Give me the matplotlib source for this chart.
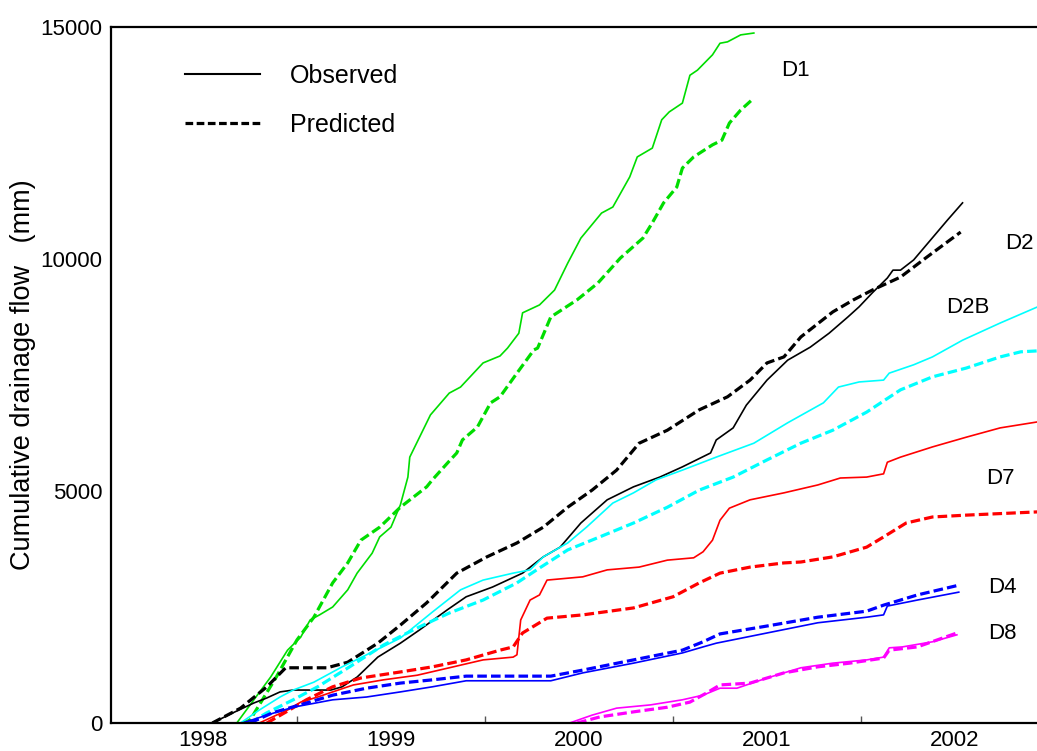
import matplotlib
matplotlib.use("Agg")
import matplotlib.pyplot as plt
from matplotlib.lines import Line2D
from matplotlib.ticker import FixedLocator

plt.rcParams['font.family'] = ['Liberation Sans', 'DejaVu Sans']

# ---- data (decimal year, cumulative drainage mm) ----
d1_obs_t = [1998.18, 1998.36, 1998.45, 1998.52, 1998.57, 1998.62, 1998.69, 1998.77, 1998.82, 1998.90,
            1998.94, 1999.00, 1999.05, 1999.09, 1999.10, 1999.21, 1999.31, 1999.37, 1999.49, 1999.58,
            1999.62, 1999.68, 1999.70, 1999.79, 1999.87, 1999.94, 2000.01, 2000.12, 2000.18, 2000.27,
            2000.31, 2000.39, 2000.44, 2000.48, 2000.55, 2000.59, 2000.63, 2000.71, 2000.75, 2000.79,
            2000.86, 2000.93]
d1_obs_v = [0, 990, 1570, 1850, 2220, 2330, 2500, 2870, 3230, 3660,
            4010, 4220, 4700, 5300, 5730, 6640, 7110, 7240, 7760, 7910,
            8080, 8400, 8840, 9010, 9330, 9910, 10450, 10990, 11120, 11770,
            12200, 12390, 13000, 13170, 13360, 13960, 14070, 14400, 14650, 14680,
            14830, 14870]
d1_pre_t = [1998.21, 1998.25, 1998.39, 1998.50, 1998.59, 1998.69, 1998.77, 1998.84, 1998.94, 1999.05,
            1999.19, 1999.22, 1999.30, 1999.35, 1999.38, 1999.46, 1999.53, 1999.58, 1999.67, 1999.76,
            1999.78, 1999.85, 1999.99, 2000.10, 2000.22, 2000.34, 2000.39, 2000.45, 2000.52, 2000.55,
            2000.61, 2000.71, 2000.76, 2000.80, 2000.86, 2000.92]
d1_pre_v = [0, 60, 990, 1790, 2280, 3020, 3450, 3940, 4220, 4650,
            5090, 5240, 5600, 5820, 6100, 6380, 6900, 7030, 7540, 8040,
            8080, 8750, 9120, 9480, 10020, 10450, 10780, 11210, 11550, 11960,
            12200, 12460, 12560, 12930, 13210, 13430]

d2_obs_t = [1998.05, 1998.16, 1998.27, 1998.34, 1998.41, 1998.48, 1998.68, 1998.74, 1998.82, 1998.93,
            1999.05, 1999.15, 1999.30, 1999.40, 1999.54, 1999.70, 1999.81, 1999.90, 2000.01, 2000.15,
            2000.29, 2000.43, 2000.55, 2000.70, 2000.73, 2000.82, 2000.89, 2001.00, 2001.11, 2001.23,
            2001.33, 2001.43, 2001.49, 2001.56, 2001.64, 2001.67, 2001.71, 2001.78, 2001.87, 2001.96,
            2002.04]
d2_obs_v = [0, 220, 430, 540, 670, 710, 710, 780, 990, 1420,
            1720, 2000, 2440, 2720, 2930, 3230, 3580, 3790, 4310, 4810,
            5090, 5300, 5520, 5820, 6100, 6360, 6850, 7390, 7820, 8100,
            8400, 8750, 8970, 9270, 9590, 9760, 9760, 9980, 10410, 10840,
            11210]
d2_pre_t = [1998.05, 1998.20, 1998.34, 1998.44, 1998.66, 1998.77, 1998.93, 1999.05, 1999.19, 1999.35,
            1999.51, 1999.67, 1999.81, 1999.94, 2000.07, 2000.20, 2000.32, 2000.47, 2000.64, 2000.79,
            2000.91, 2001.00, 2001.09, 2001.18, 2001.35, 2001.46, 2001.56, 2001.71, 2001.85, 2002.03]
d2_pre_v = [0, 320, 780, 1190, 1190, 1310, 1720, 2110, 2590, 3230,
            3580, 3880, 4220, 4650, 5020, 5450, 6030, 6310, 6750, 7030,
            7390, 7760, 7890, 8320, 8860, 9120, 9330, 9610, 10040, 10580]

d2b_obs_t = [1998.20, 1998.30, 1998.41, 1998.48, 1998.59, 1998.74, 1998.87, 1999.05, 1999.22, 1999.37,
             1999.49, 1999.65, 1999.74, 1999.81, 1999.94, 2000.04, 2000.18, 2000.29, 2000.41, 2000.55,
             2000.73, 2000.93, 2001.11, 2001.30, 2001.38, 2001.49, 2001.62, 2001.65, 2001.78, 2001.88,
             2002.04, 2002.24, 2002.44]
d2b_obs_v = [0, 280, 560, 710, 880, 1210, 1470, 1830, 2390, 2870,
             3080, 3230, 3300, 3580, 3880, 4220, 4740, 4960, 5240, 5450,
             5730, 6030, 6470, 6900, 7240, 7350, 7390, 7540, 7720, 7890,
             8250, 8620, 8970]
d2b_pre_t = [1998.25, 1998.34, 1998.48, 1998.61, 1998.78, 1998.96, 1999.14, 1999.31, 1999.49, 1999.67,
             1999.79, 1999.94, 2000.11, 2000.29, 2000.47, 2000.64, 2000.82, 2001.00, 2001.18, 2001.35,
             2001.53, 2001.71, 2001.88, 2002.06, 2002.24, 2002.35, 2002.44]
d2b_pre_v = [0, 220, 500, 780, 1210, 1680, 2050, 2370, 2650, 3020,
             3340, 3730, 4010, 4310, 4650, 5020, 5300, 5670, 6030, 6310,
             6700, 7180, 7460, 7650, 7890, 8000, 8020]

d7_obs_t = [1998.30, 1998.45, 1998.52, 1998.61, 1998.69, 1998.80, 1998.96, 1999.14, 1999.31, 1999.49,
            1999.65, 1999.67, 1999.69, 1999.74, 1999.79, 1999.83, 2000.02, 2000.15, 2000.32, 2000.47,
            2000.61, 2000.66, 2000.71, 2000.75, 2000.80, 2000.91, 2001.09, 2001.27, 2001.39, 2001.53,
            2001.62, 2001.64, 2001.71, 2001.88, 2002.06, 2002.24, 2002.44]
d7_obs_v = [0, 280, 450, 560, 670, 820, 930, 1030, 1190, 1360,
            1420, 1470, 2220, 2650, 2760, 3080, 3150, 3300, 3360, 3510,
            3560, 3690, 3940, 4370, 4630, 4810, 4960, 5130, 5280, 5300,
            5370, 5620, 5730, 5950, 6160, 6360, 6490]
d7_pre_t = [1998.34, 1998.46, 1998.55, 1998.69, 1998.84, 1999.05, 1999.22, 1999.40, 1999.58, 1999.65,
            1999.70, 1999.83, 2000.02, 2000.29, 2000.50, 2000.64, 2000.75, 2000.91, 2001.09, 2001.18,
            2001.35, 2001.53, 2001.62, 2001.74, 2001.88, 2002.06, 2002.44]
d7_pre_v = [0, 280, 500, 780, 970, 1100, 1210, 1360, 1570, 1640,
            1940, 2260, 2330, 2480, 2720, 3020, 3230, 3360, 3450, 3470,
            3580, 3790, 4010, 4310, 4440, 4480, 4550]

d4_obs_t = [1998.21, 1998.34, 1998.48, 1998.69, 1998.87, 1999.05, 1999.22, 1999.40, 1999.85, 2000.02,
            2000.29, 2000.55, 2000.66, 2000.73, 2001.00, 2001.27, 2001.53, 2001.62, 2001.64, 2001.80,
            2002.02]
d4_obs_v = [0, 170, 340, 500, 560, 670, 780, 910, 910, 1080,
            1290, 1510, 1640, 1720, 1940, 2160, 2280, 2330, 2520, 2650,
            2820]
d4_pre_t = [1998.25, 1998.37, 1998.55, 1998.69, 1998.87, 1999.05, 1999.22, 1999.40, 1999.85, 2000.02,
            2000.29, 2000.55, 2000.66, 2000.75, 2001.00, 2001.27, 2001.53, 2001.62, 2001.80, 2002.02]
d4_pre_v = [0, 220, 430, 600, 750, 860, 930, 1010, 1010, 1140,
            1360, 1570, 1750, 1920, 2090, 2280, 2410, 2540, 2760, 2970]

d8_obs_t = [1999.95, 2000.07, 2000.20, 2000.38, 2000.55, 2000.66, 2000.75, 2000.84, 2001.00, 2001.18,
            2001.35, 2001.53, 2001.62, 2001.65, 2001.72, 2001.88, 2002.01]
d8_obs_v = [0, 170, 320, 390, 500, 600, 750, 750, 970, 1190,
            1290, 1360, 1420, 1620, 1640, 1750, 1900]
d8_pre_t = [1999.99, 2000.11, 2000.29, 2000.47, 2000.59, 2000.68, 2000.75, 2000.91, 2001.09, 2001.27,
            2001.44, 2001.62, 2001.65, 2001.80, 2002.01]
d8_pre_v = [0, 130, 240, 340, 450, 650, 820, 860, 1080, 1210,
            1290, 1400, 1570, 1640, 1940]

series = [
    ("D1", "#00dd00", d1_obs_t, d1_obs_v, d1_pre_t, d1_pre_v),
    ("D2", "black", d2_obs_t, d2_obs_v, d2_pre_t, d2_pre_v),
    ("D2B", "#00ffff", d2b_obs_t, d2b_obs_v, d2b_pre_t, d2b_pre_v),
    ("D7", "#ff0000", d7_obs_t, d7_obs_v, d7_pre_t, d7_pre_v),
    ("D4", "#0000ff", d4_obs_t, d4_obs_v, d4_pre_t, d4_pre_v),
    ("D8", "#ff00ff", d8_obs_t, d8_obs_v, d8_pre_t, d8_pre_v),
]

# label positions (year, mm)
label_pos = {"D1": (2001.15, 14070), "D2": (2002.34, 10340), "D2B": (2002.07, 8960),
             "D7": (2002.24, 5280), "D4": (2002.25, 2910), "D8": (2002.25, 1920)}

year_ticks = [1998, 1999, 2000, 2001, 2002]
half_ticks = [1998.5, 1999.5, 2000.5, 2001.5]
y_ticks = [0, 5000, 10000, 15000]

DASH = (3, 1.3)
FS = 16

fig = plt.figure(figsize=(10.37, 7.51), dpi=100)
ax = fig.add_axes([111 / 1037, 28 / 751, 926 / 1037, 696 / 751])

for name, col, to, vo, tp, vp in series:
    ax.plot(to, vo, color=col, lw=1.2, solid_joinstyle='round')
    ax.plot(tp, vp, color=col, lw=2.3, dashes=DASH)
    lx, ly = label_pos[name]
    ax.text(lx, ly, name, fontsize=FS, ha='center', va='center')

ax.set_xlim(1997.511, 2002.436)
ax.set_ylim(0, 15000)

ax.set_xticks(year_ticks)
ax.set_xticklabels([str(y) for y in year_ticks])
ax.xaxis.set_minor_locator(FixedLocator(half_ticks))
ax.tick_params(axis='x', which='major', length=0, pad=5, labelsize=FS)
ax.tick_params(axis='x', which='minor', direction='in', length=5, width=1, color='#555555')
ax.set_yticks(y_ticks)
ax.tick_params(axis='y', length=0, pad=6, labelsize=FS)

for s in ['left', 'bottom', 'top']:
    ax.spines[s].set_linewidth(1.6)
ax.spines['right'].set_visible(False)

ax.set_ylabel("Cumulative drainage flow   (mm)", fontsize=19.5)
ax.yaxis.set_label_coords(-0.081, 0.5)

handles = [Line2D([], [], color='black', lw=1.5),
           Line2D([], [], color='black', lw=2.3, dashes=(2.4, 1.1))]
ax.legend(handles, ["Observed", "Predicted"], loc='upper left', bbox_to_anchor=(0.08, 0.947),
          frameon=False, fontsize=18, handlelength=3.0, handletextpad=1.2,
          labelspacing=1.0, borderpad=0, borderaxespad=0)

fig.savefig("out.png", dpi=100)
